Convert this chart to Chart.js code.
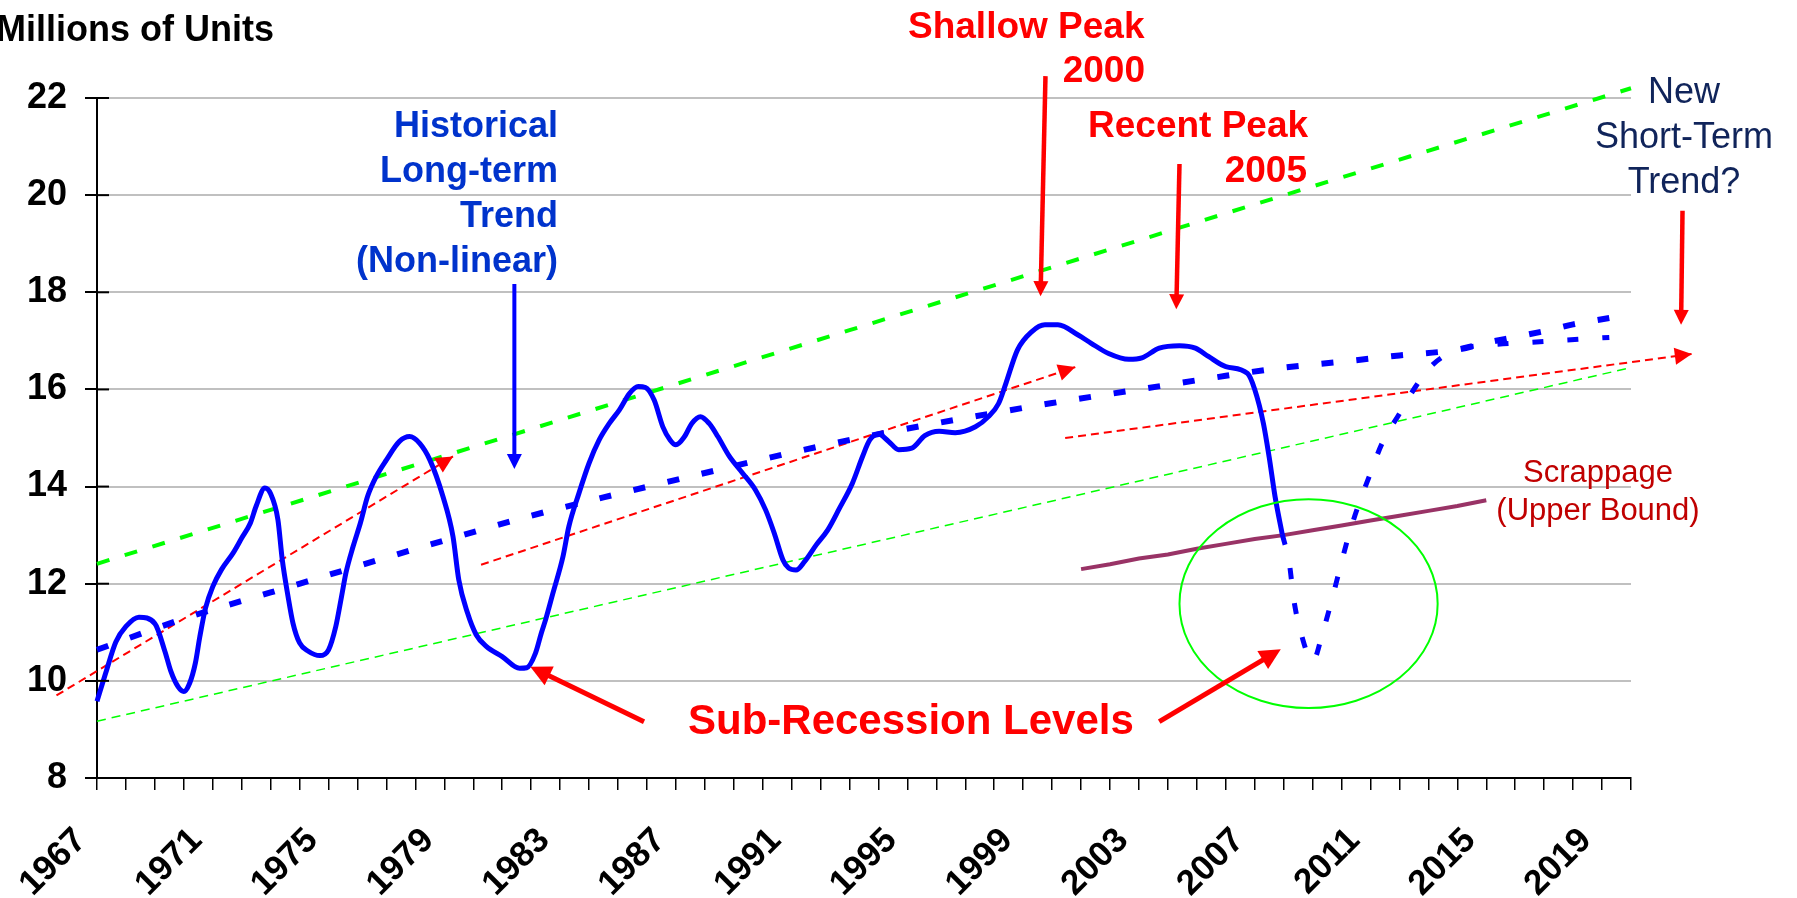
<!DOCTYPE html>
<html>
<head>
<meta charset="utf-8">
<script src="https://cdn.jsdelivr.net/npm/chart.js@4/dist/chart.umd.min.js"></script>
<style>html,body{margin:0;padding:0;background:#fff;overflow:hidden}</style>
</head>
<body>
<canvas id="c" width="1797" height="898"></canvas>
<script>
// annual sales, millions of units
var salesYears = [1967,1967.3,1967.65,1968,1968.45,1969,1969.35,1969.55,1969.8,1970,1970.2,1970.4,1970.55,1970.75,
  1971,1971.3,1971.7,1972,1972.3,1972.5,1972.8,1973,1973.25,1973.4,1973.6,1973.77,1974,1974.3,1974.7,
  1975,1975.25,1975.45,1975.6,1975.85,1976.1,1976.35,1976.65,1977,1977.45,1977.8,1978.15,1978.5,1978.95,
  1979.3,1979.5,1979.8,1980.1,1980.45,1981,1981.6,1981.85,1982.15,1982.35,1982.5,1982.75,1983.1,1983.3,
  1983.65,1984,1984.35,1984.7,1985.05,1985.4,1985.7,1985.95,1986.25,1986.55,1986.8,1987,1987.3,1987.55,
  1987.85,1988.15,1988.45,1988.85,1989.3,1989.75,1990.1,1990.4,1990.7,1990.9,1991.15,1991.45,1991.85,
  1992.25,1992.65,1993.1,1993.45,1993.7,1994,1994.35,1994.7,1995.15,1995.6,1996.1,1996.65,1997.35,1997.8,
  1998.15,1998.4,1998.8,1999.3,1999.75,2000.2,2000.9,2001.35,2001.95,2002.65,2003.1,2003.7,2004.4,2004.95,
  2005.4,2006,2006.75,2007,2007.3,2007.5,2007.7,2007.95];
var salesValues = [9.58,10.16,10.8,11.12,11.31,11.18,10.6,10.2,9.88,9.78,9.95,10.37,10.9,11.5,
  11.94,12.29,12.63,12.94,13.25,13.6,13.97,13.85,13.32,12.5,11.74,11.19,10.78,10.61,10.52,
  10.64,11.12,11.74,12.22,12.77,13.25,13.8,14.21,14.55,14.93,15.03,14.89,14.55,13.8,
  12.97,12.08,11.4,10.95,10.71,10.5,10.26,10.27,10.57,10.98,11.26,11.8,12.56,13.17,
  13.86,14.48,14.96,15.3,15.58,15.92,16.06,16.04,15.78,15.23,14.96,14.86,15.03,15.3,
  15.44,15.3,15.03,14.62,14.28,13.93,13.52,13.04,12.49,12.32,12.28,12.46,12.8,
  13.11,13.55,14.07,14.62,14.96,15.08,14.93,14.76,14.79,15.05,15.14,15.11,15.23,15.44,
  15.71,16.12,16.81,17.19,17.33,17.33,17.12,16.95,16.74,16.62,16.65,16.85,16.9,16.85,
  16.68,16.47,16.33,16.0,15.3,14.6,13.8,13.02];

// sub-recession outlook
var outlookYears = [2007.95,2008.2,2008.35,2008.6,2009,2009.35,2009.7,2010,2010.3,2010.65,2010.95,2011.4,
  2012,2012.55,2013.1,2013.7,2014.3,2015.4,2016.6,2017.8,2019.25];
var outlookValues = [13.02,12.4,11.67,10.98,10.4,11.0,11.75,12.45,13.1,13.73,14.2,14.89,
  15.5,16.05,16.48,16.74,16.86,16.93,16.97,17.02,17.07];

// historical long-term trend (non-linear)
var trendYears = [1967,1970,1973,1976,1979,1982,1985,1988,1991,1994,1997,2000,2003,2006,2008,2010,2012,2014,2015,2016,2017,2018,2019.25];
var trendValues = [10.64,11.28,11.82,12.36,12.89,13.4,13.85,14.28,14.7,15.08,15.41,15.72,16.0,16.28,16.45,16.57,16.7,16.82,16.96,17.08,17.2,17.34,17.47];

// scrappage (upper bound)
var scrapYears = [2001,2002,2003,2004,2005,2006,2007,2008,2009,2010,2011,2012,2013,2014,2015];
var scrapValues = [12.3,12.4,12.52,12.6,12.72,12.82,12.92,13.0,13.1,13.2,13.3,13.4,13.5,13.6,13.72];

// green trend channel
var upperYears = [1967,1993,2009,2020];
var upperValues = [12.41,17.22,20.18,22.2];
var lowerYears = [1967,2020];
var lowerValues = [9.17,16.45];

// red dashed trend arrows
var redAYears = [1965.6,1979.3];
var redAValues = [9.7,14.62];
var redBYears = [1980.27,2000.8];
var redBValues = [12.39,16.46];
var redCYears = [2000.45,2022.1];
var redCValues = [15.0,16.73];

// circle round the sub-recession dip: centre year, centre value, half-width (years), half-height (units)
var dipCircle = [2008.86, 11.59, 4.46, 2.15];

// pointer arrows: [year, value] from and to
var pointers = [
  {from:[1981.42,18.17], to:[1981.42,14.36], color:'#0000FF', w:4, head:15},
  {from:[1999.77,22.45], to:[1999.6,17.92], color:'#FF0000', w:4.5, head:15},
  {from:[2004.4,20.64], to:[2004.29,17.65], color:'#FF0000', w:4.5, head:15},
  {from:[2021.78,19.68], to:[2021.73,17.33], color:'#FF0000', w:4.5, head:15},
  {from:[1985.9,9.16], to:[1981.97,10.29], color:'#FF0000', w:5, head:21},
  {from:[2003.7,9.16], to:[2007.9,10.65], color:'#FF0000', w:5, head:21}
];

var FONT = "'Liberation Sans', Arial, sans-serif";

function pts(xs, ys) {
    return xs.map(function(x, i) { return {x: x, y: ys[i]}; });
}

function head(ctx, x1, y1, x2, y2, len, wid, color) {
    var a = Math.atan2(y2 - y1, x2 - x1);
    ctx.fillStyle = color;
    ctx.beginPath();
    ctx.moveTo(x2, y2);
    ctx.lineTo(x2 - len*Math.cos(a) + wid/2*Math.sin(a), y2 - len*Math.sin(a) - wid/2*Math.cos(a));
    ctx.lineTo(x2 - len*Math.cos(a) - wid/2*Math.sin(a), y2 - len*Math.sin(a) + wid/2*Math.cos(a));
    ctx.closePath();
    ctx.fill();
}

function lines(ctx, arr, x, y, lh) {
    arr.forEach(function(t, i) { ctx.fillText(t, x, y + i*lh); });
}

var overlay = {
    id: 'overlay',
    afterDatasetsDraw: function(chart) {
        var ctx = chart.ctx, xs = chart.scales.x, ys = chart.scales.y, ca = chart.chartArea;
        ctx.save();
        // inner part of the y tick marks
        ctx.strokeStyle = '#000'; ctx.lineWidth = 2;
        ys.ticks.forEach(function(t) {
            var y = ys.getPixelForValue(t.value);
            ctx.beginPath(); ctx.moveTo(ca.left, y); ctx.lineTo(ca.left + 12, y); ctx.stroke();
        });
        // heads on the red dashed trends
        chart.data.datasets.forEach(function(ds, i) {
            if (!ds.arrow) return;
            var d = chart.getDatasetMeta(i).data, n = d.length;
            head(ctx, d[n-2].x, d[n-2].y, d[n-1].x, d[n-1].y, 17, 17, '#FF0000');
        });
        // circle
        var cx = xs.getPixelForValue(dipCircle[0]), cy = ys.getPixelForValue(dipCircle[1]);
        var rx = xs.getPixelForValue(dipCircle[0] + dipCircle[2]) - cx;
        var ry = cy - ys.getPixelForValue(dipCircle[1] + dipCircle[3]);
        ctx.strokeStyle = '#00FF00'; ctx.lineWidth = 2;
        ctx.beginPath(); ctx.ellipse(cx, cy, rx, ry, 0, 0, Math.PI*2); ctx.stroke();
        // pointer arrows
        pointers.forEach(function(p) {
            var x1 = xs.getPixelForValue(p.from[0]), y1 = ys.getPixelForValue(p.from[1]);
            var x2 = xs.getPixelForValue(p.to[0]), y2 = ys.getPixelForValue(p.to[1]);
            var a = Math.atan2(y2 - y1, x2 - x1);
            ctx.strokeStyle = p.color; ctx.lineWidth = p.w; ctx.lineCap = 'butt';
            ctx.beginPath(); ctx.moveTo(x1, y1);
            ctx.lineTo(x2 - p.head*0.8*Math.cos(a), y2 - p.head*0.8*Math.sin(a)); ctx.stroke();
            head(ctx, x1, y1, x2, y2, p.head, p.head, p.color);
        });
        // texts
        ctx.textBaseline = 'alphabetic';
        ctx.fillStyle = '#000'; ctx.textAlign = 'left';
        ctx.font = 'bold 36px ' + FONT;
        ctx.fillText('Millions of Units', -4, 41);

        ctx.fillStyle = '#0033CC'; ctx.textAlign = 'right';
        lines(ctx, ['Historical', 'Long-term', 'Trend', '(Non-linear)'], 558, 137, 45);

        ctx.fillStyle = '#FF0000'; ctx.font = 'bold 37px ' + FONT;
        ctx.textAlign = 'left'; ctx.fillText('Shallow Peak', 908, 38);
        ctx.textAlign = 'right'; ctx.fillText('2000', 1145, 82);
        ctx.textAlign = 'left'; ctx.fillText('Recent Peak', 1088, 137);
        ctx.textAlign = 'right'; ctx.fillText('2005', 1307, 182);

        ctx.font = 'bold 42px ' + FONT; ctx.textAlign = 'left';
        ctx.fillText('Sub-Recession Levels', 688, 734);

        ctx.fillStyle = '#10245A'; ctx.font = '36px ' + FONT; ctx.textAlign = 'center';
        lines(ctx, ['New', 'Short-Term', 'Trend?'], 1684, 103, 45);

        ctx.fillStyle = '#C00000'; ctx.font = '31px ' + FONT;
        lines(ctx, ['Scrappage', '(Upper Bound)'], 1598, 482, 38);
        ctx.restore();
    }
};

new Chart(document.getElementById('c'), {
    type: 'line',
    data: {
        datasets: [
            {data: pts(salesYears, salesValues), borderColor: '#0000FF', borderWidth: 5, cubicInterpolationMode: 'monotone', clip: false},
            {data: pts(outlookYears, outlookValues), borderColor: '#0000FF', borderWidth: 5, borderDash: [11, 24], cubicInterpolationMode: 'monotone', clip: false},
            {data: pts(trendYears, trendValues), borderColor: '#0000FF', borderWidth: 6, borderDash: [12, 23], cubicInterpolationMode: 'monotone', clip: false},
            {data: pts(scrapYears, scrapValues), borderColor: '#993366', borderWidth: 4, clip: false},
            {data: pts(upperYears, upperValues), borderColor: '#00FF00', borderWidth: 4, borderDash: [13, 16], clip: false},
            {data: pts(lowerYears, lowerValues), borderColor: '#00FF00', borderWidth: 1.5, borderDash: [9, 6], clip: false},
            {data: pts(redAYears, redAValues), borderColor: '#FF0000', borderWidth: 2, borderDash: [8, 5], clip: false, arrow: true},
            {data: pts(redBYears, redBValues), borderColor: '#FF0000', borderWidth: 2, borderDash: [8, 5], clip: false, arrow: true},
            {data: pts(redCYears, redCValues), borderColor: '#FF0000', borderWidth: 2, borderDash: [8, 5], clip: false, arrow: true}
        ]
    },
    options: {
        responsive: false,
        animation: false,
        devicePixelRatio: 1,
        layout: {padding: {top: 98, right: 166, left: 0, bottom: 0}},
        plugins: {legend: {display: false}, tooltip: {enabled: false}},
        elements: {point: {radius: 0}, line: {fill: false, borderCapStyle: 'butt'}},
        scales: {
            x: {
                type: 'linear', min: 1967, max: 2020,
                afterFit: function(s) { s.height = 120; },
                border: {color: '#000', width: 2},
                grid: {drawOnChartArea: false, tickLength: 12, tickColor: '#000', lineWidth: 1.5},
                ticks: {
                    stepSize: 1, autoSkip: false, maxRotation: 45, minRotation: 45, padding: 30, labelOffset: -16,
                    color: '#000', font: {family: FONT, size: 35, weight: 'bold'},
                    callback: function(v) { return (v - 1967) % 4 === 0 ? String(v) : ''; }
                }
            },
            y: {
                min: 8, max: 22,
                afterFit: function(s) { s.width = 97; },
                border: {color: '#000', width: 2},
                grid: {color: '#C0C0C0', lineWidth: 2, tickLength: 12, tickColor: '#000'},
                ticks: {stepSize: 2, padding: 18, color: '#000', font: {family: FONT, size: 36, weight: 'bold'}}
            }
        }
    },
    plugins: [overlay]
});
</script>
</body>
</html>
